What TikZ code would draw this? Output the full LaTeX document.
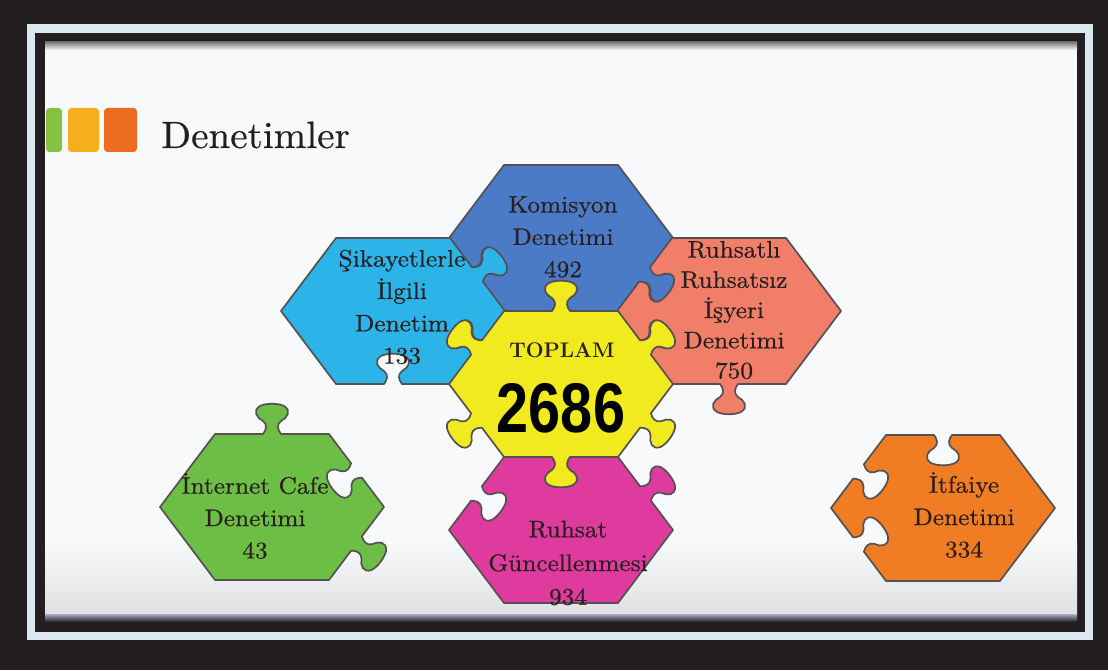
\documentclass[tikz,border=0pt]{standalone}
\usepackage{fontspec}
\newfontfamily\sumfont{Liberation Sans}
\newfontfamily\lblfont{lmroman10-regular.otf}[FakeBold=0.6, FakeStretch=1.06]
\newfontfamily\titlefont{lmroman10-regular.otf}[FakeBold=0.4, FakeStretch=1.03]
\usetikzlibrary{calc}

\definecolor{framedark}{HTML}{231F20}
\definecolor{rimblue}{HTML}{DCE8EF}
\definecolor{slidebg}{HTML}{F8F9FA}
\definecolor{slidegrey}{HTML}{E0E1E2}
\definecolor{pzline}{HTML}{555152}
\definecolor{pzblue}{HTML}{4B7BC6}
\definecolor{pzcyan}{HTML}{2CB4E9}
\definecolor{pzyellow}{HTML}{F1EA1E}
\definecolor{pzsalmon}{HTML}{F07E69}
\definecolor{pzpink}{HTML}{DF3A9E}
\definecolor{pzgreen}{HTML}{6DBE45}
\definecolor{pzorange}{HTML}{F07D24}
\definecolor{txtdark}{HTML}{2A1F1F}
\definecolor{sqgreen}{HTML}{85C241}
\definecolor{sqyellow}{HTML}{F6AE1F}
\definecolor{sqorange}{HTML}{EE6B22}

% one side of a piece: start, angle, length, knob (1 out, -1 in, 0 flat)
\newcommand{\pzedge}[4]{%
  {[shift={(#1)}, rotate=#2]
    -- ({#3/2-9},0)
    .. controls ({#3/2-6},{4*#4}) and ({#3/2-4},{9*#4}) .. ({#3/2-9},{13*#4})
    .. controls ({#3/2-15},{16*#4}) and ({#3/2-20},{23*#4}) .. ({#3/2-12},{28*#4})
    .. controls ({#3/2-6},{31*#4}) and ({#3/2+6},{31*#4}) .. ({#3/2+12},{28*#4})
    .. controls ({#3/2+20},{23*#4}) and ({#3/2+15},{16*#4}) .. ({#3/2+9},{13*#4})
    .. controls ({#3/2+4},{9*#4}) and ({#3/2+6},{4*#4}) .. ({#3/2+9},0)
    -- (#3,0)}}

% hexagon piece: centre, colour, then upper-left, top, upper-right, lower-right, bottom, lower-left
\newcommand{\pzpiece}[8]{%
  \filldraw[piece, fill=#2, shift={(#1)}] (-112,0)
    \pzedge{-112,0}{53}{91.4}{#3}
    \pzedge{-57,73}{0}{114}{#4}
    \pzedge{57,73}{-53}{91.4}{#5}
    \pzedge{112,0}{-127}{91.4}{#6}
    \pzedge{57,-73}{180}{114}{#7}
    \pzedge{-57,-73}{127}{91.4}{#8}
    -- cycle;}

\begin{document}
\begin{tikzpicture}[x=0.025cm, y=0.025cm,
    piece/.style={draw=pzline, line width=1.2pt, line join=round},
    lbl/.style={align=center, text=txtdark, inner sep=0pt,
      font=\lblfont\fontsize{17}{23}\selectfont}]
  % frame
  \fill[framedark] (0,0) rectangle (1108,670);
  \fill[rimblue] (27,30) rectangle (1093,646);
  \fill[framedark] (35,38) rectangle (1085,637);
  \shade[top color=gray!70!blue!40, bottom color=framedark] (45,48) rectangle (1077,57);
  \fill[slidebg] (45,57) rectangle (1077,628);
  \shade[top color=slidebg, bottom color=slidegrey] (45,57) rectangle (1077,128);
  \shade[top color=framedark!60, bottom color=slidebg] (45,620) rectangle (1077,628);

  % title
  \fill[sqgreen, rounded corners=2.5pt] (46,518) rectangle (62,562);
  \fill[sqyellow, rounded corners=2.5pt] (68,518) rectangle (99,562);
  \fill[sqorange, rounded corners=2.5pt] (104,518) rectangle (137,562);
  \node[anchor=base west, inner sep=0pt, text=framedark,
    font=\titlefont\fontsize{27}{32}\selectfont] (title) at (161,522) {Denetimler};

  % piece centres
  \coordinate (kom) at (561,432);
  \coordinate (sik) at (393,359);
  \coordinate (toplam) at (561,286);
  \coordinate (ruh) at (729,359);
  \coordinate (gun) at (561,140);
  \coordinate (net) at (272,163);
  \coordinate (itf) at (943,162);

  \pzpiece{kom}{pzblue}{0}{0}{0}{1}{-1}{-1}
  \pzpiece{sik}{pzcyan}{0}{0}{1}{-1}{-1}{0}
  \pzpiece{ruh}{pzsalmon}{-1}{0}{0}{0}{1}{-1}
  \pzpiece{gun}{pzpink}{-1}{-1}{1}{0}{0}{0}
  \pzpiece{toplam}{pzyellow}{1}{1}{1}{1}{1}{1}
  \pzpiece{net}{pzgreen}{0}{1}{-1}{1}{0}{0}
  \pzpiece{itf}{pzorange}{-1}{-1}{0}{0}{0}{-1}

  % labels
  \node[lbl] (komlbl) at (563,433) {Komisyon\\Denetimi\\492};
  \node[lbl] (siklbl) at (402,363) {Şikayetlerle\\İlgili\\Denetim\\133};
  \node[lbl, font=\lblfont\fontsize{17}{21.5}\selectfont] (ruhlbl) at (734,360)
    {Ruhsatlı\\Ruhsatsız\\İşyeri\\Denetimi\\750};
  \node[lbl, font=\lblfont\fontsize{17}{24}\selectfont] (gunlbl) at (568,107)
    {Ruhsat\\Güncellenmesi\\934};
  \node[lbl] (netlbl) at (255,154) {İnternet Cafe\\Denetimi\\43};
  \node[lbl] (itflbl) at (964,155) {İtfaiye\\Denetimi\\334};
  \node[lbl, font=\fontsize{15}{18}\selectfont\bfseries] (toplbl) at (562,320) {TOPLAM};
  \node[inner sep=0pt, xscale=0.82, transform shape,
    font=\sumfont\bfseries\fontsize{50}{50}\selectfont] (sumlbl) at (561,262) {2686};
\end{tikzpicture}
\end{document}
